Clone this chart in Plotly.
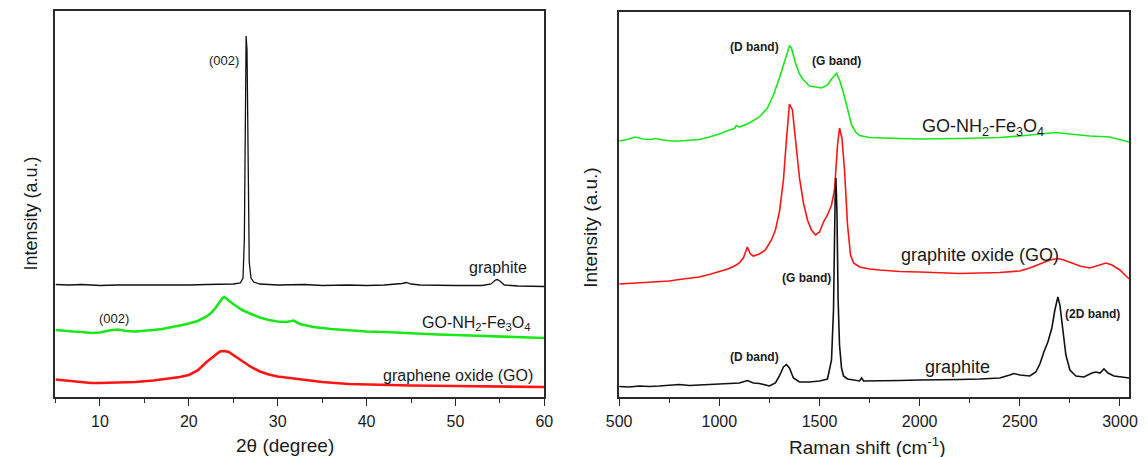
import plotly.graph_objects as go

# ---------------- XRD patterns (2-theta, degrees) ----------------
xrd_graphite_2theta = [5, 6.5, 8, 10, 12, 15, 18, 20, 22, 24, 25, 25.8, 26.1, 26.25, 26.35,
                       26.45, 26.55, 26.65, 26.8, 27.0, 27.3, 28, 30, 33, 35, 38, 40, 42,
                       43, 44, 44.5, 45, 46, 48, 50, 53, 54, 54.5, 54.7, 55, 55.5, 57, 60]
xrd_graphite_int = [112.5, 112, 112.5, 111.5, 112, 112, 111.5, 112, 112.5, 112.5, 113, 114,
                    119, 157, 277, 361, 347, 237, 135, 119, 115, 113, 112, 112.5, 111.5,
                    112, 111.5, 112, 112.5, 113.5, 114.5, 113, 112, 111.5, 111.5, 111.5,
                    113, 117, 117.5, 116, 112, 111, 110.5]

xrd_gonh2_2theta = [5, 6, 7, 8, 9, 10, 11, 12, 13, 14, 15, 16, 17, 18, 19, 20, 21, 22, 22.5,
                    23, 23.5, 23.8, 24, 24.2, 24.5, 25, 25.5, 26, 27, 28, 29, 30, 31, 31.8,
                    32.5, 34, 36, 38, 40, 42, 44, 46, 48, 50, 52, 54, 56, 58, 60]
xrd_gonh2_int = [67, 66, 65.5, 65, 64, 64.5, 66.5, 67.5, 66, 65.5, 66, 67, 68, 69.5, 71.5,
                 73.5, 76, 80.5, 84, 89, 95, 99, 100, 98.5, 97, 93, 90, 87, 83, 79.5, 77,
                 75.5, 75, 76.5, 73, 70, 68, 66.5, 65.5, 65, 64, 63.5, 62.5, 62, 61.5, 61,
                 60, 59.5, 59]

xrd_go_2theta = [5, 6, 7, 8, 9, 10, 12, 14, 16, 18, 19, 20, 21, 22, 23, 23.5, 24, 24.5,
                 25, 26, 27, 28, 29, 30, 32, 35, 38, 40, 45, 50, 55, 60]
xrd_go_int = [17.5, 16.5, 15.5, 14.5, 14, 14, 14.5, 15, 16.5, 18.5, 20, 22, 26.5, 35, 42.5,
              45.5, 46, 45, 42, 36, 30, 25.5, 22.5, 20.5, 18, 15, 13, 12.5, 11.5, 11, 10.5, 10]

# ---------------- Raman spectra (cm^-1) ----------------
raman_graphite_shift = [500, 550, 600, 650, 700, 750, 800, 850, 900, 950, 1000, 1050, 1100,
                        1140, 1170, 1200, 1250, 1280, 1300, 1320, 1335, 1350, 1370, 1400,
                        1450, 1500, 1540, 1560, 1570, 1578, 1582, 1587, 1593, 1600, 1610,
                        1620, 1640, 1700, 1710, 1720, 1800, 1900, 2000, 2100, 2200, 2300,
                        2400, 2450, 2470, 2500, 2550, 2580, 2600, 2620, 2640, 2660, 2675,
                        2690, 2700, 2715, 2730, 2750, 2780, 2820, 2860, 2880, 2900, 2920,
                        2940, 2970, 3000, 3046]
raman_graphite_int = [10.5, 10, 11, 10.5, 11, 11.5, 12.5, 11.5, 12, 12.5, 13, 13.5, 14, 16.5,
                      14, 13.5, 11, 14, 21, 30, 32.5, 29, 19, 15, 15, 16, 18, 37, 87, 197,
                      219, 187, 97, 52, 29, 21, 18, 16, 19, 16, 16, 16.5, 17, 17, 17.5, 18,
                      19, 22, 23.5, 22, 21, 25, 33, 45, 55, 69, 87, 100, 92, 67, 42, 27,
                      21, 20, 24, 25, 24, 28, 24, 21, 20, 19]

raman_go_shift = [500, 550, 600, 650, 700, 750, 800, 850, 900, 950, 1000, 1050, 1080, 1100,
                  1120, 1140, 1155, 1170, 1200, 1230, 1260, 1280, 1300, 1320, 1335, 1350,
                  1365, 1380, 1400, 1420, 1440, 1460, 1480, 1500, 1520, 1540, 1560, 1575,
                  1590, 1600, 1612, 1625, 1640, 1655, 1670, 1700, 1750, 1800, 1900, 2000,
                  2100, 2200, 2300, 2400, 2500, 2550, 2600, 2650, 2690, 2720, 2760, 2800,
                  2850, 2900, 2930, 2960, 3000, 3030, 3046]
raman_go_int = [113, 113.5, 114, 114.5, 115, 116, 117.5, 119, 120, 122.5, 125.5, 128.5,
                131.5, 134, 139, 150, 143, 141, 143, 147, 157, 167, 185, 217, 257, 293,
                287, 257, 219, 194, 177, 167, 162, 165, 175, 182, 192, 207, 252, 269, 259,
                227, 172, 142, 134, 130, 128, 127, 125.5, 125, 124, 123.5, 124, 124.5,
                126, 129, 133, 137, 138.5, 137, 134, 131, 129, 132, 134, 132, 127, 121, 118]

raman_gonh2_shift = [500, 540, 580, 620, 660, 680, 720, 760, 800, 850, 900, 950, 1000, 1050,
                     1075, 1085, 1100, 1150, 1200, 1240, 1270, 1300, 1320, 1340, 1350, 1360,
                     1380, 1400, 1420, 1450, 1480, 1510, 1540, 1560, 1585, 1600, 1620, 1640,
                     1660, 1680, 1700, 1750, 1800, 1900, 2000, 2100, 2200, 2300, 2400, 2500,
                     2600, 2680, 2750, 2850, 2950, 3000, 3046]
raman_gonh2_int = [256, 257.5, 260, 258, 257.5, 258.5, 257, 256, 256, 256.5, 257.5, 260, 263,
                   267, 268.5, 271.5, 270, 274, 280, 289, 302, 319, 331, 345, 351, 349, 334,
                   323, 317, 311, 310, 309, 312, 318, 323.5, 317, 304, 287, 272, 265, 261.5,
                   259.5, 259, 258.5, 258, 258, 258.5, 259, 259.5, 261, 263, 264.5, 263,
                   261, 260, 257.5, 255]

FONT = "Liberation Sans, Arial, sans-serif"
AXIS_COLOR = "#2a2a2a"
TEXT_COLOR = "#1a1a1a"
GREEN = "#18e818"
RED = "#ff1414"
BLACK = "#111111"

fig = go.Figure()

# XRD (left panel)
fig.add_trace(go.Scatter(x=xrd_graphite_2theta, y=xrd_graphite_int, mode="lines",
                         line=dict(color=BLACK, width=1.3), xaxis="x", yaxis="y"))
fig.add_trace(go.Scatter(x=xrd_gonh2_2theta, y=xrd_gonh2_int, mode="lines",
                         line=dict(color=GREEN, width=2.6), xaxis="x", yaxis="y"))
fig.add_trace(go.Scatter(x=xrd_go_2theta, y=xrd_go_int, mode="lines",
                         line=dict(color=RED, width=2.6), xaxis="x", yaxis="y"))

# Raman (right panel)
fig.add_trace(go.Scatter(x=raman_gonh2_shift, y=raman_gonh2_int, mode="lines",
                         line=dict(color=GREEN, width=1.6), xaxis="x2", yaxis="y2"))
fig.add_trace(go.Scatter(x=raman_go_shift, y=raman_go_int, mode="lines",
                         line=dict(color=RED, width=1.6), xaxis="x2", yaxis="y2"))
fig.add_trace(go.Scatter(x=raman_graphite_shift, y=raman_graphite_int, mode="lines",
                         line=dict(color=BLACK, width=1.6), xaxis="x2", yaxis="y2"))

W, H = 1148, 457


def px_x(p):
    return p / W


def px_y(p):
    return 1 - p / H


tick_font = dict(family=FONT, size=16, color=TEXT_COLOR)
common_x = dict(showline=True, linecolor=AXIS_COLOR, linewidth=1.5, mirror=True,
                ticks="outside", ticklen=7, tickwidth=1.3, tickcolor=AXIS_COLOR,
                ticklabelstandoff=2,
                showgrid=False, zeroline=False, tickfont=tick_font)
common_y = dict(showline=True, linecolor=AXIS_COLOR, linewidth=1.5, mirror=True,
                ticks="", showticklabels=False, showgrid=False, zeroline=False)

fig.update_layout(
    width=W, height=H,
    margin=dict(l=0, r=0, t=0, b=0),
    paper_bgcolor="white", plot_bgcolor="white",
    showlegend=False,
    xaxis=dict(domain=[px_x(43.3), px_x(541.7)], range=[5, 60], anchor="y",
               tick0=0, dtick=10,
               minor=dict(dtick=5, ticks="outside", ticklen=4, tickcolor=AXIS_COLOR,
                          tickwidth=1.3, showgrid=False),
               **common_x),
    yaxis=dict(domain=[px_y(397), px_y(11)], range=[0, 386], anchor="x", **common_y),
    xaxis2=dict(domain=[px_x(618), px_x(1138)], range=[500, 3046], anchor="y2",
                tick0=0, dtick=500,
                minor=dict(dtick=250, ticks="outside", ticklen=4, tickcolor=AXIS_COLOR,
                           tickwidth=1.3, showgrid=False),
                **common_x),
    yaxis2=dict(domain=[px_y(397), px_y(12)], range=[0, 385], anchor="x2", **common_y),
)

ann = []


def label(text, x, y, xref, yref, size, xanchor="center", bold=False, angle=0):
    ann.append(dict(text=f"<b>{text}</b>" if bold else text, x=x, y=y, xref=xref, yref=yref,
                    xanchor=xanchor, yanchor="middle", showarrow=False, textangle=angle,
                    font=dict(family=FONT, size=size, color=TEXT_COLOR)))


# axis titles
label("Intensity (a.u.)", px_x(18.8), px_y(213), "paper", "paper", 18, angle=-90)
label("2θ (degree)", px_x(277.5), px_y(445), "paper", "paper", 19)
label("Intensity (a.u.)", px_x(588), px_y(228), "paper", "paper", 19, angle=-90)
label("Raman shift (cm<sup>-1</sup>)", px_x(871), px_y(446), "paper", "paper", 19)

# XRD labels
label("(002)", 25.85, 336, "x", "y", 13, xanchor="right")
label("graphite", 54.76, 129.3, "x", "y", 16)
label("(002)", 11.56, 79, "x", "y", 13)
label("GO-NH<sub>2</sub>-Fe<sub>3</sub>O<sub>4</sub>", 58.56, 74, "x", "y", 16, xanchor="right")
label("graphene oxide (GO)", 58.93, 22, "x", "y", 16, xanchor="right")

# Raman labels
label("(D band)", 1176, 349.7, "x2", "y2", 12, bold=True)
label("(G band)", 1586, 336, "x2", "y2", 12, bold=True)
label("GO-NH<sub>2</sub>-Fe<sub>3</sub>O<sub>4</sub>", 2004, 270, "x2", "y2", 18, xanchor="left")
label("graphite oxide (GO)", 1897, 142, "x2", "y2", 18, xanchor="left")
label("(G band)", 1436, 119, "x2", "y2", 12, bold=True)
label("(2D band)", 2862, 83, "x2", "y2", 12, bold=True)
label("(D band)", 1178, 40, "x2", "y2", 12, bold=True)
label("graphite", 2188, 30, "x2", "y2", 18)

fig.update_layout(annotations=ann)
fig.write_html("out.html")
